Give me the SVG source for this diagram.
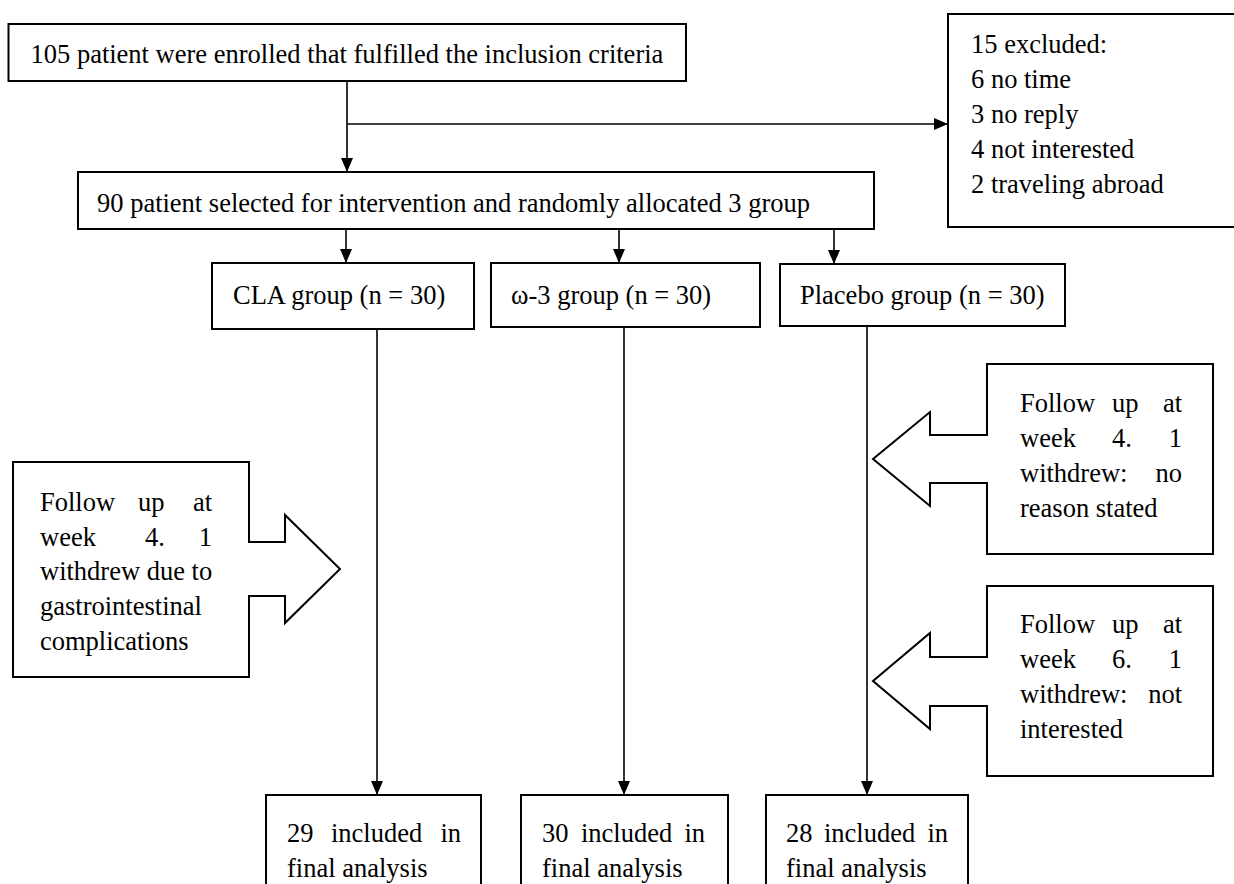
<svg xmlns="http://www.w3.org/2000/svg" width="1234" height="884" viewBox="0 0 1234 884">
<defs>
<marker id="ah" markerUnits="userSpaceOnUse" markerWidth="14" markerHeight="14" viewBox="0 0 14 14" refX="14" refY="7" orient="auto">
<path d="M0,1 L14,7 L0,13 Z" fill="#000"/>
</marker>
</defs>
<style>
.b{fill:#fff;stroke:#000;stroke-width:2}
.c{fill:none;stroke:#000;stroke-width:1.6}
.t{font-family:"Liberation Serif","Times New Roman",serif;font-size:26.5px;fill:#000}
.e{text-anchor:end}
</style>
<rect width="1234" height="884" fill="#fff"/>
<g id="connectors">
<line class="c" x1="347" y1="81" x2="347" y2="172" marker-end="url(#ah)"/>
<line class="c" x1="347" y1="124" x2="948" y2="124" marker-end="url(#ah)"/>
<line class="c" x1="346" y1="229" x2="346" y2="263" marker-end="url(#ah)"/>
<line class="c" x1="619" y1="229" x2="619" y2="263" marker-end="url(#ah)"/>
<line class="c" x1="834" y1="229" x2="834" y2="264" marker-end="url(#ah)"/>
<line class="c" x1="377" y1="329" x2="377" y2="795" marker-end="url(#ah)"/>
<line class="c" x1="624" y1="327" x2="624" y2="795" marker-end="url(#ah)"/>
<line class="c" x1="867" y1="326" x2="867" y2="795" marker-end="url(#ah)"/>
</g>
<g id="enrolled">
<rect class="b" x="8.5" y="24" width="677.5" height="57"/>
<text class="t" x="30.5" y="63">105 patient were enrolled that fulfilled the inclusion criteria</text>
</g>
<g id="excluded">
<rect class="b" x="948" y="14" width="300" height="213"/>
<text class="t" x="971" y="53">15 excluded:</text>
<text class="t" x="971" y="88">6 no time</text>
<text class="t" x="971" y="123">3 no reply</text>
<text class="t" x="971" y="158">4 not interested</text>
<text class="t" x="971" y="193">2 traveling abroad</text>
</g>
<g id="selected">
<rect class="b" x="78" y="172" width="796" height="57"/>
<text class="t" x="97" y="212">90 patient selected for intervention and randomly allocated 3 group</text>
</g>
<g id="cla">
<rect class="b" x="212" y="263" width="262" height="66"/>
<text class="t" x="233" y="304">CLA group (n = 30)</text>
</g>
<g id="omega3">
<rect class="b" x="491" y="263" width="269" height="64"/>
<text class="t" x="511" y="304">ω-3 group (n = 30)</text>
</g>
<g id="placebo">
<rect class="b" x="780" y="264" width="285" height="62"/>
<text class="t" x="800" y="304">Placebo group (n = 30)</text>
</g>
<g id="followup-cla">
<polygon class="b" points="13,462 249,462 249,542 285,542 285,515 340,569 285,623 285,596 249,596 249,677 13,677"/>
<text class="t" x="40" y="511">Follow</text>
<text class="t" x="138" y="511">up</text>
<text class="t e" x="212" y="511">at</text>
<text class="t" x="40" y="546">week</text>
<text class="t" x="145" y="546">4.</text>
<text class="t e" x="212" y="546">1</text>
<text class="t" x="40" y="580">withdrew due to</text>
<text class="t" x="40" y="615">gastrointestinal</text>
<text class="t" x="40" y="650">complications</text>
</g>
<g id="followup-placebo-4">
<polygon class="b" points="1213,364 987,364 987,435 930,435 930,412 873,459 930,506 930,483 987,483 987,554 1213,554"/>
<text class="t" x="1020" y="412">Follow</text>
<text class="t" x="1112" y="412">up</text>
<text class="t e" x="1182" y="412">at</text>
<text class="t" x="1020" y="447">week</text>
<text class="t" x="1112" y="447">4.</text>
<text class="t e" x="1182" y="447">1</text>
<text class="t" x="1020" y="482">withdrew:</text>
<text class="t e" x="1182" y="482">no</text>
<text class="t" x="1020" y="517">reason stated</text>
</g>
<g id="followup-placebo-6">
<polygon class="b" points="1213,586 987,586 987,657 930,657 930,633 873,681 930,729 930,706 987,706 987,776 1213,776"/>
<text class="t" x="1020" y="633">Follow</text>
<text class="t" x="1112" y="633">up</text>
<text class="t e" x="1182" y="633">at</text>
<text class="t" x="1020" y="668">week</text>
<text class="t" x="1112" y="668">6.</text>
<text class="t e" x="1182" y="668">1</text>
<text class="t" x="1020" y="703">withdrew:</text>
<text class="t e" x="1182" y="703">not</text>
<text class="t" x="1020" y="738">interested</text>
</g>
<g id="final-cla">
<rect class="b" x="266" y="795" width="215" height="110"/>
<text class="t" x="287" y="842">29</text>
<text class="t" x="331" y="842">included</text>
<text class="t e" x="461" y="842">in</text>
<text class="t" x="287" y="877">final analysis</text>
</g>
<g id="final-omega3">
<rect class="b" x="521" y="795" width="207" height="110"/>
<text class="t" x="542" y="842">30</text>
<text class="t" x="581" y="842">included</text>
<text class="t e" x="705" y="842">in</text>
<text class="t" x="542" y="877">final analysis</text>
</g>
<g id="final-placebo">
<rect class="b" x="766" y="795" width="202" height="110"/>
<text class="t" x="786" y="842">28</text>
<text class="t" x="824" y="842">included</text>
<text class="t e" x="948" y="842">in</text>
<text class="t" x="786" y="877">final analysis</text>
</g>
</svg>
